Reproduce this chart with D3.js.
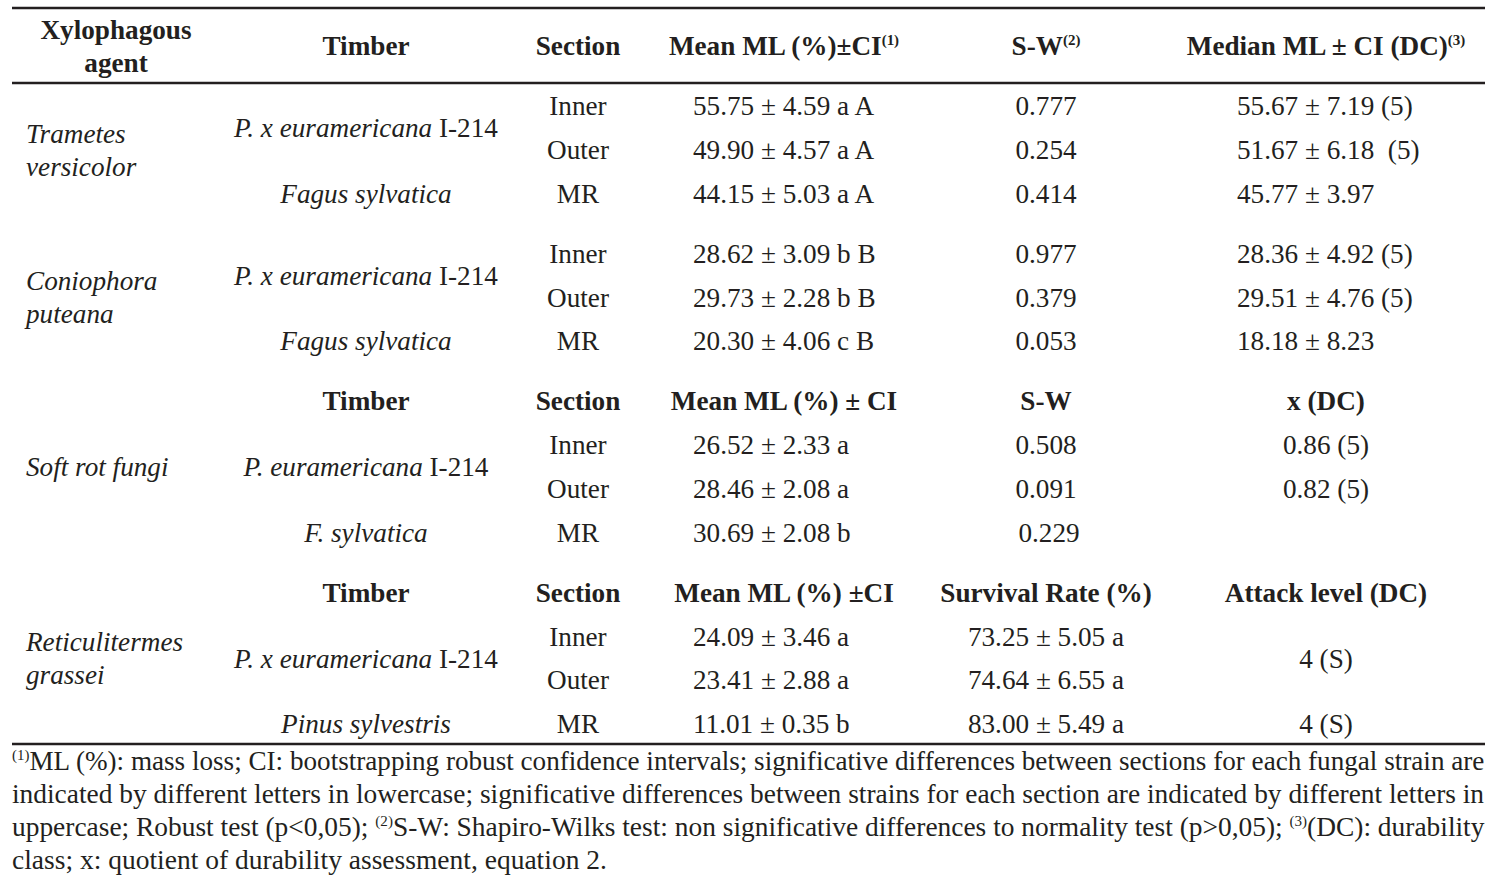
<!DOCTYPE html>
<html><head><meta charset="utf-8">
<script src="https://cdn.jsdelivr.net/npm/d3@7"></script>
<style>
body{margin:0;background:#fff}
svg text{font-family:"Liberation Serif","Times New Roman",Times,serif;fill:#231f20;white-space:pre}
</style>
</head><body>
<svg id="c" width="1505" height="878"></svg>
<script>
// ---------- DATA ----------
const columnKeys = ["agent","timber","section","mean","sw","last"];
const mainHeader = [
  [["Xylophagous"],["agent"]],
  [["Timber"]],
  [["Section"]],
  [["Mean ML (%)±CI"],["(1)","sup"]],
  [["S-W"],["(2)","sup"]],
  [["Median ML ± CI (DC)"],["(3)","sup"]]
];
const subHeaderSoftRot = ["Timber","Section","Mean ML (%) ± CI","S-W","x (DC)"];
const subHeaderTermite = ["Timber","Section","Mean ML (%) ±CI","Survival Rate (%)","Attack level (DC)"];
const agentNames = [["Trametes","versicolor"],["Coniophora","puteana"],["Soft rot fungi"],["Reticulitermes","grassei"]];
const timberNames = [
  [[["P. x euramericana","i"],[" I-214"]], [["Fagus sylvatica","i"]]],
  [[["P. x euramericana","i"],[" I-214"]], [["Fagus sylvatica","i"]]],
  [[["P. euramericana","i"],[" I-214"]], [["F. sylvatica","i"]]],
  [[["P. x euramericana","i"],[" I-214"]], [["Pinus sylvestris","i"]]]
];
const sectionNames = ["Inner","Outer","MR"];
const meanML = [
  ["55.75 ± 4.59 a A","49.90 ± 4.57 a A","44.15 ± 5.03 a A"],
  ["28.62 ± 3.09 b B","29.73 ± 2.28 b B","20.30 ± 4.06 c B"],
  ["26.52 ± 2.33 a","28.46 ± 2.08 a","30.69 ± 2.08 b"],
  ["24.09 ± 3.46 a","23.41 ± 2.88 a","11.01 ± 0.35 b"]
];
const swValues = [
  ["0.777","0.254","0.414"],
  ["0.977","0.379","0.053"],
  ["0.508","0.091","0.229"]
];
const survivalRate = ["73.25 ± 5.05 a","74.64 ± 6.55 a","83.00 ± 5.49 a"];
const medianML = [
  ["55.67 ± 7.19 (5)","51.67 ± 6.18  (5)","45.77 ± 3.97"],
  ["28.36 ± 4.92 (5)","29.51 ± 4.76 (5)","18.18 ± 8.23"]
];
const durabilityX = ["0.86 (5)","0.82 (5)"];
const attackLevel = ["4 (S)","4 (S)"];
const footnotes = [
  [["(1)","sup"],["ML (%): mass loss; CI: bootstrapping robust confidence intervals; significative differences between sections for each fungal strain are"]],
  [["indicated by different letters in lowercase; significative differences between strains for each section are indicated by different letters in"]],
  [["uppercase; Robust test (p<0,05); "],["(2)","sup"],["S-W: Shapiro-Wilks test: non significative differences to normality test (p>0,05); "],["(3)","sup"],["(DC): durability"]],
  [["class; x: quotient of durability assessment, equation 2."]]
];

// ---------- LAYOUT ----------
const FS = 27.2;
const svg = d3.select("#c");
const left = 12, right = 1485;
const colX = d3.scaleOrdinal().domain(columnKeys).range([26, 366, 578, 693, 1046, 1326]);
const headCenterX = d3.scaleOrdinal().domain(columnKeys).range([116, 366, 578, 784, 1046, 1326]);
const y = d3.scaleLinear().domain([0, 1]).range([106, 149.8]);
const slot = (row, group) => y(row + group * 0.37);

function rich(g, x, yy, segs, opts = {}) {
  const fs = opts.fs || FS;
  const t = g.append("text").attr("x", x).attr("y", yy + fs * 0.34)
    .attr("text-anchor", opts.anchor || "middle")
    .style("font-size", fs + "px")
    .style("font-weight", opts.bold ? "bold" : "normal")
    .style("font-style", opts.italic ? "italic" : "normal");
  let shifted = false;
  const supFs = fs * 0.55, rise = fs * 0.36;
  segs.forEach(s => {
    const ts = t.append("tspan").text(s[0]);
    const st = s[1] || "";
    if (st.includes("i")) ts.style("font-style", "italic");
    if (st === "sup") {
      ts.style("font-size", supFs + "px").attr("dy", -rise);
      shifted = true;
    } else if (shifted) {
      ts.attr("dy", rise);
      shifted = false;
    }
  });
  return t;
}

// rules
const rules = [8, 83, 744];
svg.selectAll("line.rule").data(rules).join("line")
  .attr("x1", left).attr("x2", right)
  .attr("y1", d => d).attr("y2", d => d)
  .attr("stroke", "#231f20").attr("stroke-width", 2.4);

const g = svg.append("g");

// main header
mainHeader.forEach((segs, i) => {
  const k = columnKeys[i];
  if (i === 0) {
    rich(g, headCenterX(k), 30, [segs[0]], {bold: true});
    rich(g, headCenterX(k), 63, [segs[1]], {bold: true});
  } else {
    rich(g, headCenterX(k), 46, segs, {bold: true});
  }
});

// sub headers
[[subHeaderSoftRot, 2, 6], [subHeaderTermite, 3, 10]].forEach(([labels, grp, row]) => {
  labels.forEach((lab, j) => {
    rich(g, headCenterX(columnKeys[j + 1]), slot(row, grp), [[lab]], {bold: true});
  });
});

const groupStart = [0, 3, 7, 11];
groupStart.forEach((r0, gi) => {
  const ys = [0, 1, 2].map(k => slot(r0 + k, gi));
  const top = gi >= 2 ? slot(r0 - 1, gi) : ys[0];
  const cy = (top + ys[2]) / 2;
  const names = agentNames[gi];
  if (names.length === 1) rich(g, colX("agent"), cy, [[names[0]]], {anchor: "start", italic: true});
  else names.forEach((n, k) => rich(g, colX("agent"), cy + (k === 0 ? -16.5 : 16.5), [[n]], {anchor: "start", italic: true}));
  rich(g, colX("timber"), (ys[0] + ys[1]) / 2, timberNames[gi][0]);
  rich(g, colX("timber"), ys[2], timberNames[gi][1]);
  sectionNames.forEach((s, k) => {
    rich(g, colX("section"), ys[k], [[s]]);
    rich(g, colX("mean"), ys[k], [[meanML[gi][k]]], {anchor: "start"});
  });
  const sw = gi < 3 ? swValues[gi] : survivalRate;
  sw.forEach((v, k) => rich(g, colX("sw") + (gi === 2 && k === 2 ? 3 : 0), ys[k], [[v]]));
  if (gi < 2) medianML[gi].forEach((v, k) => rich(g, 1237, ys[k], [[v]], {anchor: "start"}));
  else if (gi === 2) durabilityX.forEach((v, k) => rich(g, colX("last"), ys[k], [[v]]));
  else {
    rich(g, colX("last"), (ys[0] + ys[1]) / 2, [[attackLevel[0]]]);
    rich(g, colX("last"), ys[2], [[attackLevel[1]]]);
  }
});

// footnotes: justified lines scaled to the column width
const fy = d3.scaleLinear().domain([0, 1]).range([761, 794]);
const footTargets = [right - left, right - left, right - left, 595];
footnotes.forEach((segs, i) => {
  const t = rich(g, 0, fy(i), segs, {anchor: "start", fs: 26.5});
  const w = t.node().getComputedTextLength();
  const txt = segs.map(s => s[0]).join("");
  const nsp = (txt.match(/ /g) || []).length;
  // distribute part of the gap as word spacing, rest as glyph scale
  const target = footTargets[i];
  const sx = Math.min(1.05, target / w);
  if (i < 3) {
    const extra = (target / sx - w) / nsp;
    t.style("word-spacing", extra + "px");
  }
  t.attr("transform", `translate(${left},0) scale(${i < 3 ? sx : target / w},1)`);
});
</script>
</body></html>
